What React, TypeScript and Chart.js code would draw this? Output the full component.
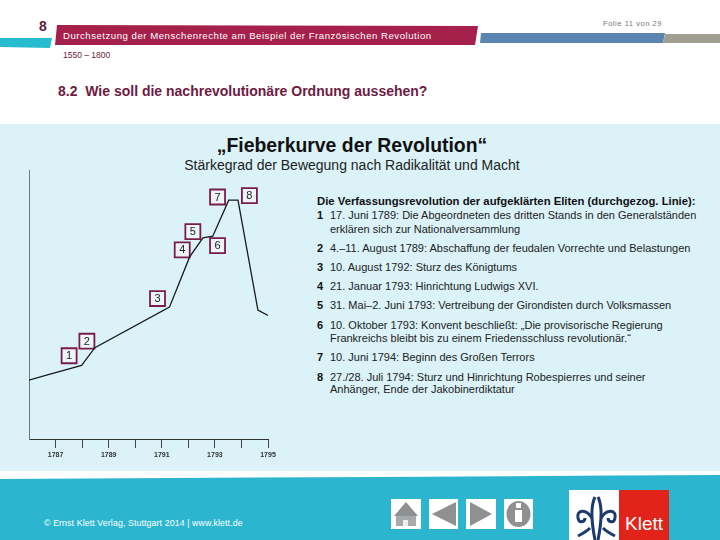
import React, { useEffect, useRef } from "react";
import { Chart, registerables } from "chart.js";

Chart.register(...registerables);

const curveYears = [1786, 1786.66, 1787.98, 1788.48, 1791.29, 1792.05, 1792.55, 1792.92, 1793.52, 1793.87, 1794.62, 1795];
const curveStrength = [21.9, 23.8, 27.4, 34.0, 49.1, 67.8, 74.9, 75.5, 88.9, 88.9, 48.0, 46.0];
const markerLabels = ["1", "2", "3", "4", "5", "6", "7", "8"];
const markerYears = [1787.51, 1788.18, 1790.84, 1791.77, 1792.17, 1793.1, 1793.1, 1794.3];
const markerStrength = [31.0, 36.4, 52.3, 70.4, 77.2, 72.0, 90.1, 90.6];

const legendLines = [
  ["1", "17. Juni 1789: Die Abgeordneten des dritten Stands in den Generalständen", 215],
  ["", "erklären sich zur Nationalversammlung", 229],
  ["2", "4.–11. August 1789: Abschaffung der feudalen Vorrechte und Belastungen", 248],
  ["3", "10. August 1792: Sturz des Königtums", 267],
  ["4", "21. Januar 1793: Hinrichtung Ludwigs XVI.", 286],
  ["5", "31. Mai–2. Juni 1793: Vertreibung der Girondisten durch Volksmassen", 305],
  ["6", "10. Oktober 1793: Konvent beschließt: „Die provisorische Regierung", 325],
  ["", "Frankreichs bleibt bis zu einem Friedensschluss revolutionär.“", 338],
  ["7", "10. Juni 1794: Beginn des Großen Terrors", 357],
  ["8", "27./28. Juli 1794: Sturz und Hinrichtung Robespierres und seiner", 377],
  ["", "Anhänger, Ende der Jakobinerdiktatur", 389],
] as const;

const FONT = '"Liberation Sans", Arial, sans-serif';

function T(props: { x: number; y: number; size: number; color?: string; bold?: boolean; center?: boolean; sp?: number; children: React.ReactNode }) {
  const { x, y, size, color = "#222", bold, center, sp = 0, children } = props;
  return (
    <div
      style={{
        position: "absolute",
        left: x,
        top: y,
        fontFamily: FONT,
        fontSize: size,
        fontWeight: bold ? 700 : 400,
        color,
        letterSpacing: sp,
        whiteSpace: "pre",
        lineHeight: 1,
        transform: center ? "translate(-50%,-50%)" : "translateY(-50%)",
      }}
    >
      {children}
    </div>
  );
}

const markerText = {
  id: "markerText",
  afterDatasetsDraw(chart: any) {
    const { ctx } = chart;
    const meta = chart.getDatasetMeta(1);
    ctx.save();
    ctx.fillStyle = "#222";
    ctx.font = `11px ${FONT}`;
    ctx.textAlign = "center";
    ctx.textBaseline = "middle";
    meta.data.forEach((pt: any, i: number) => ctx.fillText(markerLabels[i], pt.x, pt.y + 0.5));
    ctx.restore();
  },
};

export default function App() {
  const ref = useRef<HTMLCanvasElement>(null);
  useEffect(() => {
    const chart = new Chart(ref.current!, {
      type: "line",
      data: {
        datasets: [
          {
            label: "Stärkegrad",
            data: curveYears.map((x, i) => ({ x, y: curveStrength[i] })),
            borderColor: "#1a1a1a",
            borderWidth: 1.3,
            pointRadius: 0,
            tension: 0,
          },
          {
            label: "Ereignisse",
            data: markerYears.map((x, i) => ({ x, y: markerStrength[i] })),
            showLine: false,
            pointStyle: "rect",
            pointRadius: 10.6,
            pointBackgroundColor: "#eef5f8",
            pointBorderColor: "#7a1c4b",
            pointBorderWidth: 1.8,
          },
        ],
      },
      options: {
        responsive: false,
        animation: false,
        layout: { padding: { top: 0, right: 32, left: 0, bottom: 0 } },
        plugins: { legend: { display: false }, tooltip: { enabled: false } },
        scales: {
          x: {
            type: "linear",
            min: 1786,
            max: 1795,
            afterFit: (s: any) => {
              s.height = 31;
            },
            border: { color: "#333", width: 1 },
            grid: {
              drawOnChartArea: false,
              drawTicks: true,
              tickLength: 9,
              color: (c: any) => (c.tick && c.tick.value === 1786 ? "rgba(0,0,0,0)" : "#444"),
            },
            ticks: {
              stepSize: 1,
              autoSkip: false,
              maxRotation: 0,
              padding: 3,
              color: "#333",
              font: { family: FONT, size: 7, weight: "bold" },
              callback: (v: any) => (Number(v) % 2 === 1 ? String(v) : ""),
            },
          },
          y: {
            min: 0,
            max: 100,
            afterFit: (s: any) => {
              s.width = 29;
            },
            border: { color: "#6b7b80", width: 1 },
            grid: { display: false },
            ticks: { display: false },
          },
        },
      },
      plugins: [markerText],
    } as any);
    return () => chart.destroy();
  }, []);

  return (
    <div style={{ position: "fixed", left: 0, top: 0, width: 720, height: 540, background: "#fff", overflow: "hidden" }}>
      <div style={{ position: "absolute", left: 0, top: 124, width: 720, height: 347, background: "#daf2f8" }} />
      <svg width={720} height={540} style={{ position: "absolute", left: 0, top: 0 }}>
        <polygon points="0,38 52,38 50,48 0,47" fill="#27bcd0" />
        <polygon points="57,25 478,26 475,45 55,45" fill="#a6204c" />
        <polygon points="481,33 665,33 663,43 480,43" fill="#5a85b0" />
        <polygon points="665,34 720,34 720,43 663,43" fill="#a19e92" />
        <path d="M0,479 Q360,477 720,475 L720,540 L0,540 Z" fill="#2cb5cf" />
        <rect x={391} y={499} width={30} height={30} fill="#fff" />
        <polygon points="406,502 418,516 394,516" fill="#8f9092" />
        <rect x={396} y={516} width={20} height={10} fill="#a8a9aa" />
        <rect x={403} y={520} width={5} height={6} fill="#eee" />
        <rect x={429} y={499} width={29} height={30} fill="#fff" />
        <polygon points="432,514 456,502 456,526" fill="#8f9092" />
        <rect x={466} y={499} width={30} height={30} fill="#fff" />
        <polygon points="492,514 470,502 470,526" fill="#8f9092" />
        <rect x={504} y={499} width={29} height={30} fill="#fff" />
        <ellipse cx={518.5} cy={514} rx={12} ry={13} fill="#8f9092" />
        <rect x={516} y={503} width={5} height={5} fill="#fff" />
        <rect x={515} y={510} width={7} height={12} fill="#fff" />
        <rect x={569} y={490} width={50} height={50} fill="#fff" />
        <rect x={619} y={490} width={50} height={50} fill="#e2231a" />
        <g fill="none" stroke="#1d3a6e" strokeWidth={3}>
          <path d="M595,497 C590,507 592,525 595,540" />
          <path d="M598,497 C603,507 601,525 598,540" />
          <path d="M592,518 C586,508 576,510 578,518 C579,524 585,522 585,518" />
          <path d="M601,518 C607,508 617,510 615,518 C614,524 608,522 608,518" />
          <path d="M590,528 C586,532 582,534 578,536" />
          <path d="M603,528 C607,532 611,534 615,536" />
        </g>
      </svg>
      <T x={39} y={26} size={14} bold color="#5f1a3a">8</T>
      <T x={63} y={36} size={9.6} color="#fff" sp={0.52}>Durchsetzung der Menschenrechte am Beispiel der Französischen Revolution</T>
      <T x={603} y={24} size={7.5} color="#777" sp={0.55}>Folie 11 von 29</T>
      <T x={63} y={55} size={8.5} color="#6b1a3e">1550 – 1800</T>
      <T x={58} y={91} size={14} bold color="#6e1a42">{"8.2  Wie soll die nachrevolutionäre Ordnung aussehen?"}</T>
      <T x={352} y={146} size={19.4} bold center color="#111">„Fieberkurve der Revolution“</T>
      <T x={352} y={165} size={14} center color="#222">Stärkegrad der Bewegung nach Radikalität und Macht</T>
      <canvas ref={ref} width={300} height={312} style={{ position: "absolute", left: 0, top: 158, width: 300, height: 312 }} />
      <T x={317} y={201.5} size={11.3} bold color="#111">Die Verfassungsrevolution der aufgeklärten Eliten (durchgezog. Linie):</T>
      {legendLines.map(([n, text, y], i) => (
        <React.Fragment key={i}>
          {n ? <T x={317} y={y} size={11} bold color="#111">{n}</T> : null}
          <T x={330} y={y} size={11} color="#222">{text}</T>
        </React.Fragment>
      ))}
      <T x={44} y={523} size={8.8} color="#fff" sp={0.1}>© Ernst Klett Verlag, Stuttgart 2014 | www.klett.de</T>
      <T x={644} y={523} size={19} color="#fff" center>Klett</T>
    </div>
  );
}
